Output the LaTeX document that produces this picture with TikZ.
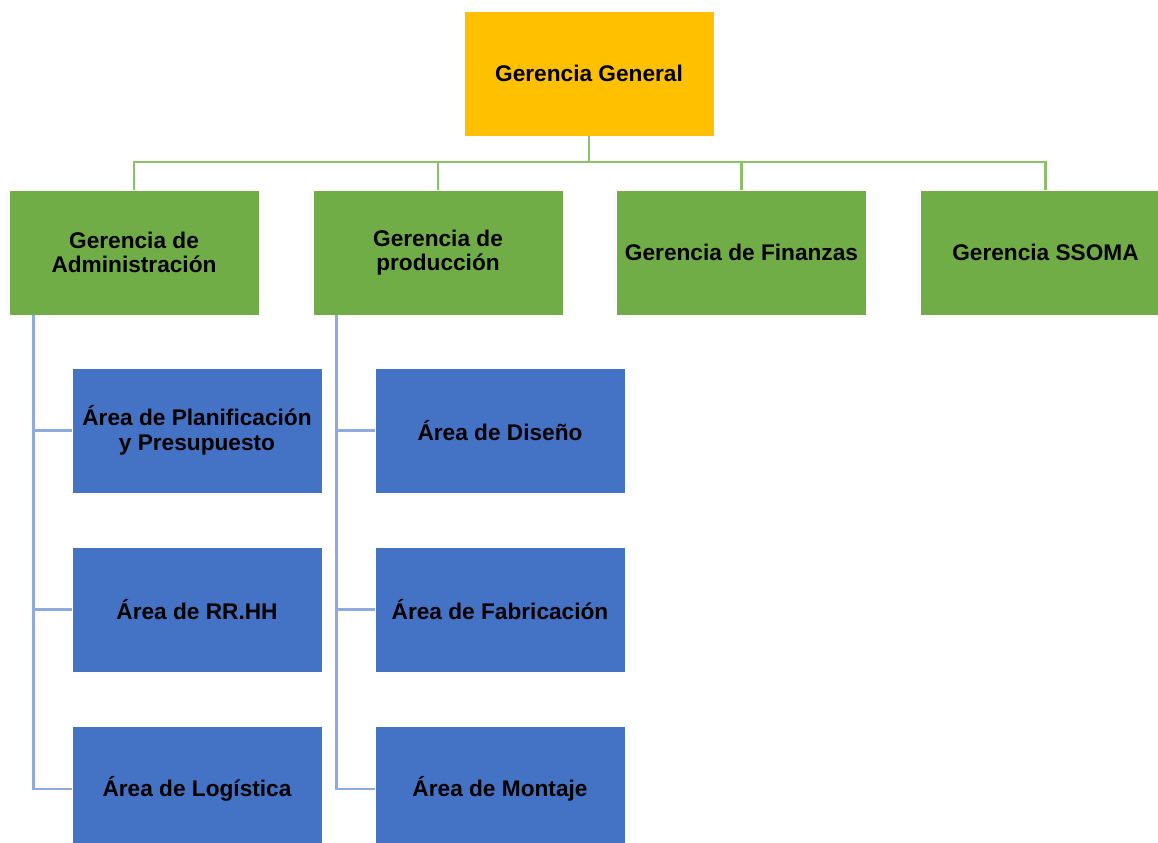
\documentclass[tikz,border=0pt]{standalone}
\usepackage{fontspec}
\setmainfont{Liberation Sans}
\usepackage{tikz}
\usepackage{xcolor}
\usetikzlibrary{positioning}
\definecolor{gold}{HTML}{FFC000}
\definecolor{green}{HTML}{70AD47}
\definecolor{blue}{HTML}{4472C4}
\definecolor{greenline}{HTML}{8CC06A}
\definecolor{blueline}{HTML}{8FAADC}
\tikzset{%
  box/.style={rectangle, draw=white, line width=0.4pt, minimum width=5cm,
    minimum height=2.5cm, align=center, inner sep=2pt,
    font=\fontsize{12.9}{14}\selectfont\bfseries},
  head/.style={box, fill=gold},
  dept/.style={box, fill=green},
  area/.style={box, fill=blue},
  gline/.style={draw=greenline, line width=1.5pt},
  bline/.style={draw=blueline, line width=1.4pt},
}

\begin{document}
\begin{tikzpicture}[x=0.02cm, y=-0.02cm]
    \useasboundingbox (0,0) rectangle (1158,842);

    \node[head] (gg) at (589,73.5) {Gerencia General};

    \node[dept] (gadm) at (134,252.5) {Gerencia de\\Administración};
    \node[dept] (gprod) at (438,252.5) {Gerencia de\\producción};
    \node[dept] (gfin) at (741.5,252.5) {Gerencia de Finanzas};
    \node[dept] (gssoma) at (1045.5,252.5) {Gerencia SSOMA};

    \node[area] (aplan) at (197,430.5) {Área de Planificación\\y Presupuesto};
    \node[area] (arrhh) at (197,609.5) {Área de RR.HH};
    \node[area] (alog) at (197,789) {Área de Logística};
    \node[area] (adis) at (500,430.5) {Área de Diseño};
    \node[area] (afab) at (500,609.5) {Área de Fabricación};
    \node[area] (amon) at (500,789) {Área de Montaje};

    \coordinate (bar) at (589,162);
    \draw[gline] (gg.south) -- (bar);
    \foreach \dep in {gadm,gprod,gfin,gssoma}
      \draw[gline] (bar) -| (\dep.north);

    \foreach \area in {aplan,arrhh,alog}
      \draw[bline] ([xshift=0.5cm]gadm.south west) |- (\area.west);
    \foreach \area in {adis,afab,amon}
      \draw[bline] ([xshift=0.48cm]gprod.south west) |- (\area.west);
  \end{tikzpicture}
\end{document}
